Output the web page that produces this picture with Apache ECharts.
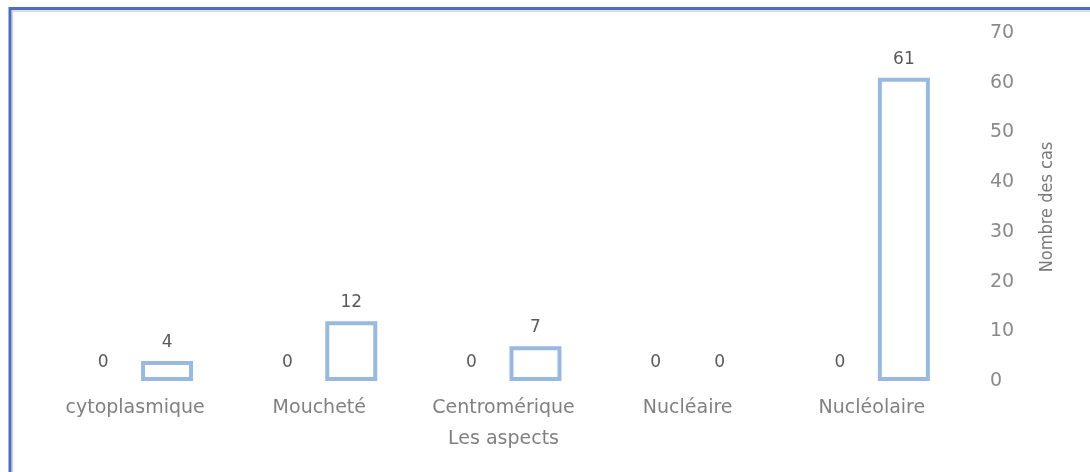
<!DOCTYPE html>
<html>
<head>
<meta charset="utf-8">
<script src="https://cdn.jsdelivr.net/npm/echarts@6/dist/echarts.min.js"></script>
<style>
  html, body { margin: 0; padding: 0; background: #fff; }
  #chart { width: 1090px; height: 472px; }
</style>
</head>
<body>
<div id="chart"></div>
<script>
// Aspects and case counts
const categories = ['cytoplasmique', 'Moucheté', 'Centromérique', 'Nucléaire', 'Nucléolaire'];
const seriesA = [0, 0, 0, 0, 0];
const seriesB = [4, 12, 7, 0, 61];
const yTicks = { min: 0, max: 70, interval: 10 };

const textFont = 'DejaVu Sans';
const chart = echarts.init(document.getElementById('chart'), null, { renderer: 'canvas' });

// outlined bars; a zero count gets no outline
const outlined = seriesB.map(v => v === 0 ? { value: v, itemStyle: { borderWidth: 0, color: 'transparent' } } : v);

chart.setOption({
  backgroundColor: '#ffffff',
  animation: false,
  graphic: [
    // frame around the chart area
    { type: 'rect', left: 10, top: 8.5, shape: { width: 1200, height: 600 },
      style: { fill: 'none', stroke: '#d4d4d4', lineWidth: 1.5 }, silent: true },
    { type: 'rect', left: 7.5, top: 6, shape: { width: 1200, height: 600 },
      style: { fill: 'none', stroke: '#4a6fc0', lineWidth: 3 }, silent: true }
  ],
  grid: { left: 43, right: 126, top: 33, bottom: 91 },
  xAxis: {
    type: 'category',
    data: categories,
    name: 'Les aspects',
    nameLocation: 'middle',
    nameGap: 49,
    nameTextStyle: { color: '#808080', fontFamily: textFont, fontSize: 19 },
    axisLine: { show: false },
    axisTick: { show: false },
    axisLabel: { color: '#808080', fontFamily: textFont, fontSize: 19, margin: 18, interval: 0 }
  },
  yAxis: {
    type: 'value',
    position: 'right',
    min: yTicks.min, max: yTicks.max, interval: yTicks.interval,
    name: 'Nombre des cas',
    nameLocation: 'middle',
    nameRotate: 90,
    nameGap: 74,
    nameTextStyle: { color: '#7a7a7a', fontFamily: "'DejaVu Sans Condensed', 'Liberation Sans', sans-serif", fontSize: 18 },
    axisLine: { show: false },
    axisTick: { show: false },
    splitLine: { show: false },
    axisLabel: { color: '#8a8a8a', fontFamily: textFont, fontSize: 19, margin: 26 }
  },
  series: [
    {
      type: 'bar',
      data: seriesA,
      barWidth: 52,
      barGap: '23%',
      itemStyle: { color: 'transparent', borderWidth: 0 },
      label: { show: true, position: 'top', distance: 10, color: '#595959', fontFamily: textFont, fontSize: 17 }
    },
    {
      type: 'bar',
      data: outlined,
      barWidth: 52,
      itemStyle: { color: '#ffffff', borderColor: '#9ab9e0', borderWidth: 4 },
      label: { show: true, position: 'top', distance: 10, color: '#595959', fontFamily: textFont, fontSize: 17 }
    }
  ]
});
</script>
</body>
</html>
